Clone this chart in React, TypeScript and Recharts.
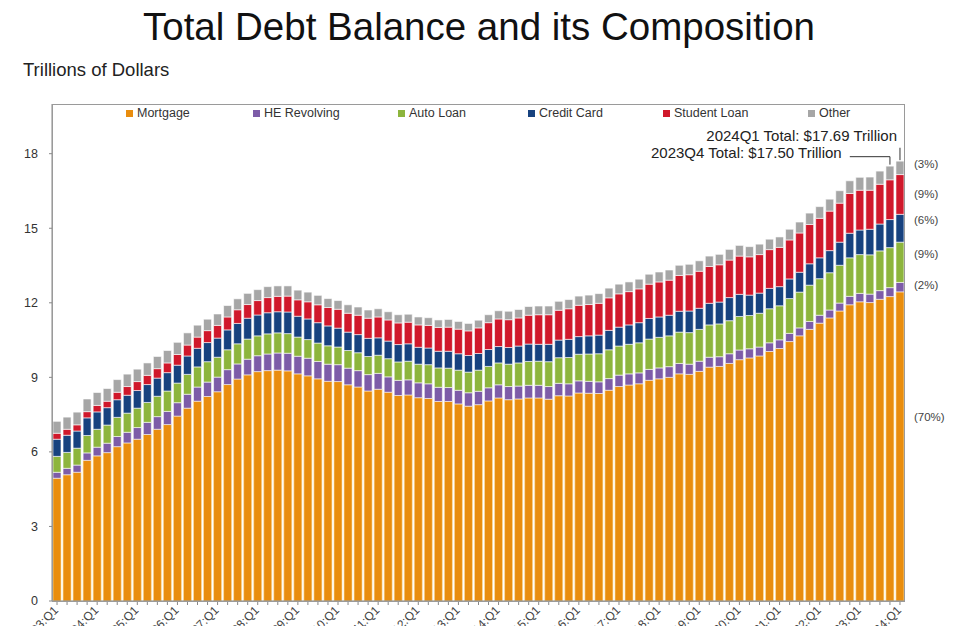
import React from 'react';
import { BarChart, Bar, XAxis, YAxis, ReferenceLine } from 'recharts';

const years = ['03', '04', '05', '06', '07', '08', '09', '10', '11', '12', '13', '14', '15', '16', '17', '18', '19', '20', '21', '22', '23', '24'];
const quarters = ['Q1', 'Q2', 'Q3', 'Q4'];
const categories = years.flatMap((y) => quarters.map((q) => `${y}:${q}`)).slice(0, 85);

// trillions of dollars, 2003Q1 .. 2024Q1
const mortgage = [
  4.94, 5.08, 5.18, 5.66, 5.84, 5.97, 6.21, 6.36, 6.51, 6.7, 6.91, 7.1, 7.44, 7.76, 8.04, 8.23,
  8.42, 8.71, 8.93, 9.1, 9.23, 9.27, 9.29, 9.26, 9.14, 9.06, 8.94, 8.84, 8.83, 8.7, 8.61, 8.45,
  8.52, 8.4, 8.27, 8.29, 8.18, 8.15, 8.03, 8.03, 7.93, 7.84, 7.9, 8.05, 8.17, 8.1, 8.13, 8.17,
  8.17, 8.12, 8.26, 8.25, 8.37, 8.36, 8.35, 8.48, 8.63, 8.69, 8.74, 8.88, 8.94, 9.0, 9.14, 9.12,
  9.24, 9.41, 9.44, 9.56, 9.71, 9.78, 9.86, 10.04, 10.16, 10.44, 10.67, 10.93, 11.18, 11.39, 11.67, 11.92,
  12.04, 12.01, 12.14, 12.25, 12.44,
];
const heRevolving = [
  0.24, 0.26, 0.29, 0.3, 0.35, 0.38, 0.41, 0.43, 0.47, 0.49, 0.51, 0.53, 0.54, 0.56, 0.57, 0.58,
  0.59, 0.6, 0.61, 0.63, 0.64, 0.67, 0.69, 0.71, 0.71, 0.71, 0.7, 0.69, 0.68, 0.67, 0.66, 0.66,
  0.64, 0.62, 0.61, 0.61, 0.6, 0.59, 0.57, 0.56, 0.55, 0.54, 0.54, 0.53, 0.53, 0.53, 0.52, 0.51,
  0.51, 0.51, 0.5, 0.49, 0.49, 0.48, 0.47, 0.47, 0.46, 0.45, 0.44, 0.44, 0.44, 0.43, 0.42, 0.41,
  0.41, 0.4, 0.39, 0.39, 0.39, 0.37, 0.36, 0.35, 0.35, 0.33, 0.32, 0.32, 0.32, 0.32, 0.32, 0.34,
  0.34, 0.34, 0.35, 0.36, 0.38,
];
const autoLoan = [
  0.64, 0.64, 0.68, 0.7, 0.72, 0.73, 0.77, 0.77, 0.78, 0.8, 0.82, 0.82, 0.79, 0.8, 0.81, 0.82,
  0.8, 0.8, 0.81, 0.81, 0.8, 0.81, 0.81, 0.79, 0.77, 0.75, 0.74, 0.74, 0.71, 0.71, 0.72, 0.73,
  0.73, 0.73, 0.74, 0.75, 0.75, 0.77, 0.78, 0.78, 0.81, 0.83, 0.85, 0.86, 0.88, 0.9, 0.93, 0.96,
  0.97, 1.0, 1.03, 1.06, 1.07, 1.1, 1.13, 1.16, 1.17, 1.19, 1.21, 1.22, 1.23, 1.24, 1.26, 1.27,
  1.28, 1.3, 1.32, 1.33, 1.35, 1.34, 1.36, 1.37, 1.37, 1.4, 1.44, 1.46, 1.47, 1.5, 1.52, 1.55,
  1.56, 1.58, 1.6, 1.61, 1.62,
];
const creditCard = [
  0.69, 0.69, 0.69, 0.71, 0.7, 0.7, 0.71, 0.72, 0.71, 0.72, 0.73, 0.74, 0.72, 0.74, 0.75, 0.77,
  0.77, 0.8, 0.82, 0.84, 0.84, 0.85, 0.85, 0.87, 0.84, 0.83, 0.82, 0.8, 0.76, 0.74, 0.73, 0.73,
  0.7, 0.71, 0.7, 0.7, 0.68, 0.67, 0.67, 0.68, 0.66, 0.67, 0.67, 0.68, 0.66, 0.67, 0.68, 0.7,
  0.68, 0.7, 0.71, 0.73, 0.71, 0.73, 0.75, 0.78, 0.76, 0.78, 0.81, 0.83, 0.82, 0.83, 0.84, 0.87,
  0.85, 0.87, 0.88, 0.93, 0.89, 0.82, 0.81, 0.82, 0.77, 0.79, 0.8, 0.86, 0.84, 0.89, 0.93, 0.99,
  0.99, 1.03, 1.08, 1.13, 1.12,
];
const studentLoan = [
  0.24, 0.24, 0.25, 0.25, 0.26, 0.26, 0.3, 0.35, 0.36, 0.37, 0.38, 0.39, 0.43, 0.44, 0.45, 0.48,
  0.51, 0.52, 0.55, 0.55, 0.58, 0.61, 0.62, 0.64, 0.66, 0.69, 0.72, 0.74, 0.76, 0.76, 0.78, 0.81,
  0.84, 0.85, 0.87, 0.87, 0.9, 0.91, 0.96, 0.97, 0.99, 0.99, 1.03, 1.08, 1.11, 1.12, 1.13, 1.16,
  1.19, 1.19, 1.2, 1.23, 1.26, 1.26, 1.28, 1.31, 1.34, 1.34, 1.36, 1.38, 1.41, 1.41, 1.44, 1.46,
  1.49, 1.48, 1.5, 1.51, 1.54, 1.54, 1.55, 1.56, 1.58, 1.57, 1.58, 1.58, 1.59, 1.59, 1.57, 1.6,
  1.6, 1.57, 1.6, 1.6, 1.6,
];
const other = [
  0.48, 0.49, 0.51, 0.51, 0.52, 0.51, 0.51, 0.5, 0.5, 0.5, 0.49, 0.5, 0.49, 0.49, 0.48, 0.46,
  0.46, 0.46, 0.44, 0.45, 0.44, 0.44, 0.42, 0.41, 0.39, 0.39, 0.38, 0.36, 0.35, 0.34, 0.33, 0.33,
  0.33, 0.33, 0.33, 0.32, 0.32, 0.31, 0.3, 0.31, 0.31, 0.3, 0.31, 0.32, 0.33, 0.34, 0.34, 0.35,
  0.35, 0.35, 0.36, 0.37, 0.37, 0.38, 0.39, 0.39, 0.39, 0.39, 0.39, 0.4, 0.4, 0.41, 0.41, 0.42,
  0.42, 0.42, 0.42, 0.43, 0.43, 0.41, 0.42, 0.42, 0.42, 0.43, 0.44, 0.46, 0.47, 0.48, 0.5, 0.51,
  0.52, 0.53, 0.53, 0.55, 0.54,
];

const yTicks = [0, 3, 6, 9, 12, 15, 18];

const series = [
  { key: 'mortgage', name: 'Mortgage', color: '#E98D0E', values: mortgage, legendX: 126 },
  { key: 'he', name: 'HE Revolving', color: '#7D5CA8', values: heRevolving, legendX: 253 },
  { key: 'auto', name: 'Auto Loan', color: '#8DB53D', values: autoLoan, legendX: 398 },
  { key: 'cc', name: 'Credit Card', color: '#17427F', values: creditCard, legendX: 528 },
  { key: 'student', name: 'Student Loan', color: '#D0182B', values: studentLoan, legendX: 663 },
  { key: 'other', name: 'Other', color: '#A6A6A6', values: other, legendX: 808 },
];

const shares = [
  { text: '(3%)', y: 165 },
  { text: '(9%)', y: 195 },
  { text: '(6%)', y: 221 },
  { text: '(9%)', y: 255 },
  { text: '(2%)', y: 286 },
  { text: '(70%)', y: 418 },
];

const data = categories.map((q, i) => {
  const row: Record<string, string | number> = { q };
  series.forEach((s) => {
    row[s.key] = s.values[i];
  });
  return row;
});

const FONT = "'Liberation Sans', Arial, sans-serif";

function QuarterTick(props: any) {
  const { x, y, payload } = props;
  if (!String(payload.value).endsWith('Q1')) return <g />;
  return (
    <text
      x={x + 2}
      y={y + 4}
      textAnchor="end"
      fontSize={12}
      fill="#444"
      fontFamily={FONT}
      transform={`rotate(-45, ${x + 2}, ${y + 4})`}
    >
      {payload.value}
    </text>
  );
}

export default function App() {
  return (
    <div style={{ position: 'absolute', left: 0, top: 0, width: 960, height: 626, background: '#fff', fontFamily: FONT, overflow: 'hidden' }}>
      <div style={{ position: 'absolute', left: 0, width: 958, top: 5, textAlign: 'center', fontSize: 38.5, color: '#111', lineHeight: '44px' }}>
        Total Debt Balance and its Composition
      </div>
      <div style={{ position: 'absolute', left: 23, top: 59, fontSize: 18.5, color: '#222' }}>Trillions of Dollars</div>

      <BarChart
        width={960}
        height={626}
        data={data}
        margin={{ top: 104, right: 55, left: 0, bottom: 0 }}
        barCategoryGap={1}
      >
        <XAxis
          dataKey="q"
          interval={0}
          height={25}
          tickSize={4}
          tickMargin={2}
          stroke="#888"
          tick={<QuarterTick />}
        />
        <YAxis
          domain={[0, 20]}
          ticks={yTicks}
          width={52}
          tickSize={3}
          tickMargin={11}
          stroke="#888"
          tick={{ fill: '#333', fontSize: 12.5, fontFamily: FONT }}
          allowDataOverflow
        />
        {series.map((s) => (
          <Bar
            key={s.key}
            dataKey={s.key}
            name={s.name}
            stackId="debt"
            fill={s.color}
            stroke={s.key === 'mortgage' ? '#fbe3a8' : '#ffffff'}
            strokeWidth={0.6}
            isAnimationActive={false}
          />
        ))}
        <ReferenceLine
          segment={[{ x: '22:Q4', y: 17.88 }, { x: '23:Q4', y: 17.88 }]}
          stroke="#333"
          strokeWidth={1}
        />
        <ReferenceLine
          segment={[{ x: '23:Q4', y: 17.88 }, { x: '23:Q4', y: 17.56 }]}
          stroke="#333"
          strokeWidth={1}
        />
        <ReferenceLine
          segment={[{ x: '24:Q1', y: 18.24 }, { x: '24:Q1', y: 17.74 }]}
          stroke="#333"
          strokeWidth={1}
        />
      </BarChart>

      <div style={{ position: 'absolute', left: 52, top: 104, width: 853, height: 498, border: '1px solid #9a9a9a', boxSizing: 'border-box', pointerEvents: 'none' }} />

      {series.map((s) => (
        <div key={s.key} style={{ position: 'absolute', left: s.legendX, top: 106, fontSize: 12.5, color: '#333', display: 'flex', alignItems: 'center', whiteSpace: 'nowrap' }}>
          <span style={{ display: 'inline-block', width: 7, height: 7, background: s.color, marginRight: 4 }} />
          {s.name}
        </div>
      ))}

      <div style={{ position: 'absolute', right: 63, top: 127, fontSize: 15, color: '#222', whiteSpace: 'nowrap' }}>
        2024Q1 Total: $17.69 Trillion
      </div>
      <div style={{ position: 'absolute', left: 651, top: 144, fontSize: 15, color: '#222', whiteSpace: 'nowrap' }}>
        2023Q4 Total: $17.50 Trillion
      </div>

      {shares.map((s) => (
        <div key={s.y} style={{ position: 'absolute', left: 914, top: s.y - 7, fontSize: 11.5, color: '#444', whiteSpace: 'nowrap' }}>
          {s.text}
        </div>
      ))}
    </div>
  );
}
